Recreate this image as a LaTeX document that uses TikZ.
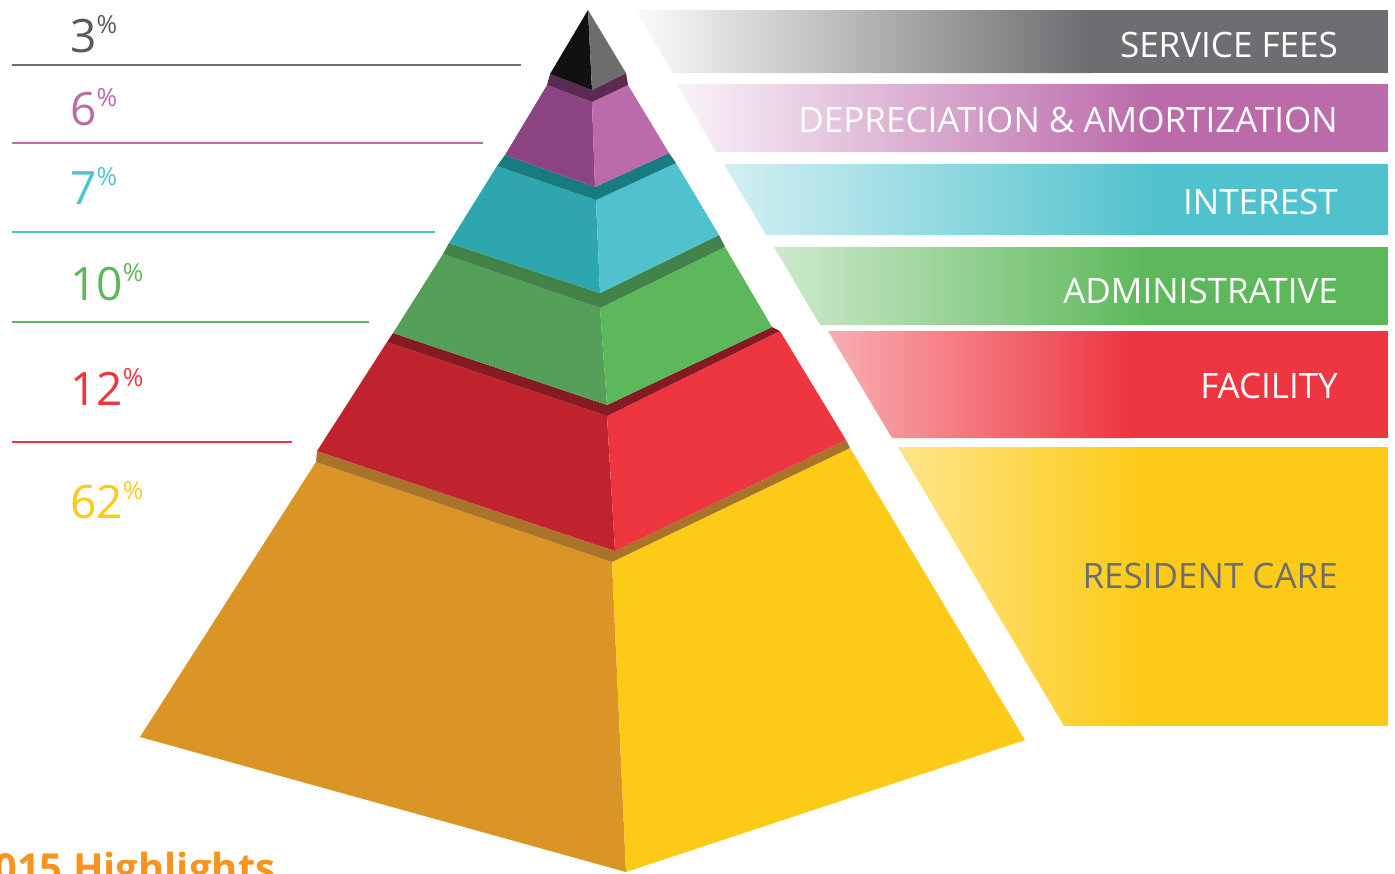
\documentclass[tikz,border=0pt]{standalone}
\usepackage{fontspec}
\setmainfont{Open Sans}
% цвета ярусов: L - левая грань, R - правая грань, T - уступ сверху
\definecolor{blkL}{HTML}{111111}
\definecolor{blkR}{HTML}{6D6D6D}
\definecolor{purL}{HTML}{8C4582}
\definecolor{purR}{HTML}{BB6AAA}
\definecolor{purT}{HTML}{5B2A52}
\definecolor{teaL}{HTML}{2EA6AD}
\definecolor{teaR}{HTML}{50C2CD}
\definecolor{teaT}{HTML}{187B7F}
\definecolor{grnL}{HTML}{55A058}
\definecolor{grnR}{HTML}{5CB85A}
\definecolor{grnT}{HTML}{42834A}
\definecolor{redL}{HTML}{C1232E}
\definecolor{redR}{HTML}{EE3640}
\definecolor{redT}{HTML}{861A22}
\definecolor{yelL}{HTML}{DA9526}
\definecolor{yelR}{HTML}{FDCB17}
\definecolor{yelT}{HTML}{A9732A}
\definecolor{feesC}{HTML}{6D6E71}
\definecolor{feesN}{HTML}{58595B}
\definecolor{orangeC}{HTML}{F7941D}
\newcommand{\pctlabel}[1]{{\fontsize{46}{46}\selectfont #1}\raisebox{19pt}{\fontsize{25}{25}\selectfont\%}} % число со значком процента
\begin{document}
\begin{tikzpicture}[x=1pt,y=-1pt] % пирамида расходов
\tikzstyle{bandtext} = [text=white, font=\fontsize{35}{35}\selectfont, anchor=base east, inner sep=0pt] % подпись на полосе
\tikzstyle{pcttext} = [anchor=base west, inner sep=0pt] % процент слева
\tikzstyle{pctline} = [line width=2.5pt] % линия под процентом

\useasboundingbox (0,0) rectangle (1395,873);
\clip (0,0) rectangle (1395,873);

% основание - жёлтый ярус
\fill[yelL] (316,462) -- (612,562) -- (626,872) -- (140,737) -- cycle;
\fill[yelR] (612,562) -- (850,448) -- (1025,740) -- (626,872) -- cycle;
\fill[yelT] (316,462) -- (612,562) -- (850,448) -- (846,440) -- (615,551) -- (317,451) -- cycle;
% красный ярус
\fill[redL] (387,342) -- (607,416) -- (615,551) -- (317,451) -- cycle;
\fill[redR] (607,416) -- (780,331) -- (846,440) -- (615,551) -- cycle;
\fill[redT] (387,342) -- (607,416) -- (780,331) -- (772,327) -- (607,405) -- (393,333) -- cycle;
% зелёный ярус
\fill[grnL] (443,254) -- (600,308) -- (607,405) -- (393,333) -- cycle;
\fill[grnR] (600,308) -- (725,247) -- (772,327) -- (607,405) -- cycle;
\fill[grnT] (443,254) -- (600,308) -- (725,247) -- (719,235) -- (600,293) -- (449,243) -- cycle;
% бирюзовый ярус
\fill[teaL] (497,166) -- (596,200) -- (600,293) -- (449,243) -- cycle;
\fill[teaR] (596,200) -- (676,163) -- (719,235) -- (600,293) -- cycle;
\fill[teaT] (497,166) -- (596,200) -- (676,163) -- (669,153) -- (595,187) -- (505,155) -- cycle;
% фиолетовый ярус
\fill[purL] (547,85) -- (592,102) -- (595,187) -- (505,155) -- cycle;
\fill[purR] (592,102) -- (628,85) -- (669,153) -- (595,187) -- cycle;
\fill[purT] (547,85) -- (592,102) -- (628,85) -- (626,73) -- (592,90) -- (550,74) -- cycle;
% верхушка
\fill[blkL] (588,10) -- (592,90) -- (550,74) -- cycle;
\fill[blkR] (588,10) -- (626,73) -- (592,90) -- cycle;

% полосы справа
\begin{scope}
\clip (636,10) -- (1388,10) -- (1388,73) -- (673,73) -- cycle;
\shade[left color=white!97!feesC, right color=feesC] (636,10) rectangle (1090,73);
\fill[feesC] (1089,10) rectangle (1388,73);
\end{scope}
\begin{scope}
\clip (677,84) -- (1388,84) -- (1388,152) -- (716,152) -- cycle;
\shade[left color=purR!8, right color=purR] (677,84) rectangle (1150,152);
\fill[purR] (1149,84) rectangle (1388,152);
\end{scope}
\begin{scope}
\clip (724,164) -- (1388,164) -- (1388,235) -- (766,235) -- cycle;
\shade[left color=teaR!25, right color=teaR] (724,164) rectangle (1160,235);
\fill[teaR] (1159,164) rectangle (1388,235);
\end{scope}
\begin{scope}
\clip (774,247) -- (1388,247) -- (1388,325) -- (820,325) -- cycle;
\shade[left color=grnR!30, right color=grnR] (774,247) rectangle (1150,325);
\fill[grnR] (1149,247) rectangle (1388,325);
\end{scope}
\begin{scope}
\clip (828,331) -- (1388,331) -- (1388,438) -- (892,438) -- cycle;
\shade[left color=redR!40, right color=redR] (828,331) rectangle (1130,438);
\fill[redR] (1129,331) rectangle (1388,438);
\end{scope}
\begin{scope}
\clip (898,447) -- (1388,447) -- (1388,726) -- (1064,726) -- cycle;
\shade[left color=yelR!50, right color=yelR] (898,447) rectangle (1140,726);
\fill[yelR] (1139,447) rectangle (1388,726);
\end{scope}

% подписи полос
\node[bandtext] (fees) at (1338,57) {SERVICE FEES};
\node[bandtext] (depr) at (1338,132) {DEPRECIATION \& AMORTIZATION};
\node[bandtext] (intr) at (1338,214) {INTEREST};
\node[bandtext] (admn) at (1338,303) {ADMINISTRATIVE};
\node[bandtext] (faci) at (1338,398) {FACILITY};
\node[bandtext, text=feesC] (care) at (1338,588) {RESIDENT CARE};

% проценты слева
\node[pcttext, text=feesN] (p3) at (70,52) {\pctlabel{3}};
\node[pcttext, text=purR] (p6) at (70,125) {\pctlabel{6}};
\node[pcttext, text=teaR] (p7) at (70,204) {\pctlabel{7}};
\node[pcttext, text=grnR] (p10) at (70,300) {\pctlabel{10}};
\node[pcttext, text=redR] (p12) at (70,405) {\pctlabel{12}};
\node[pcttext, text=yelR] (p62) at (70,518) {\pctlabel{62}};
\draw[pctline, feesC] (12,65) -- (521,65);
\draw[pctline, purR] (12,143) -- (483,143);
\draw[pctline, teaR] (12,232) -- (435,232);
\draw[pctline, grnR] (12,322) -- (369,322);
\draw[pctline, redR] (12,442) -- (292,442);

\node[pcttext, text=orangeC, font=\bfseries\fontsize{40}{40}\selectfont] (title) at (-6,882) {015 Highlights};
\end{tikzpicture}
\end{document}
